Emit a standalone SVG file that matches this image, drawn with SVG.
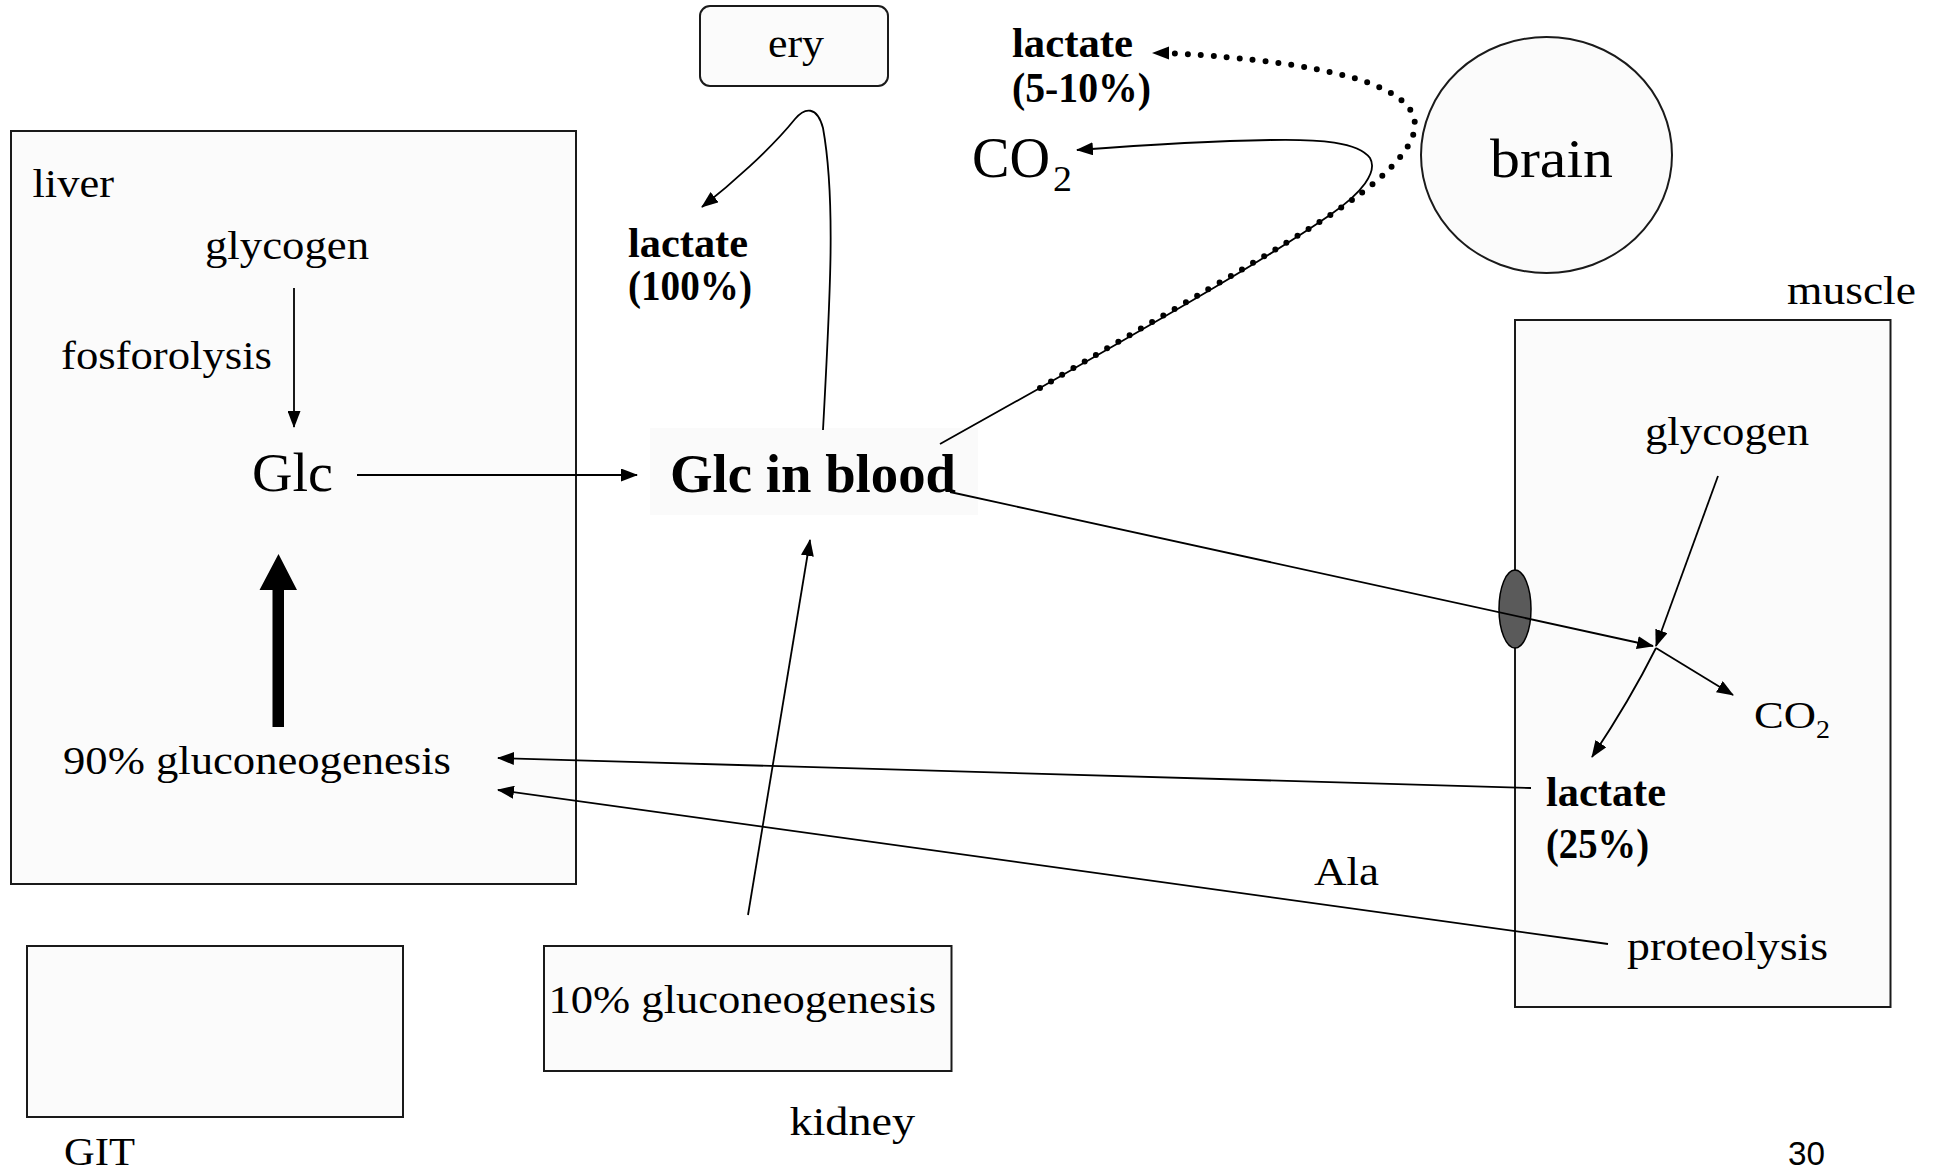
<svg xmlns="http://www.w3.org/2000/svg" width="1939" height="1172" viewBox="0 0 1939 1172">
<style>
  .t { font-family: "Liberation Serif", "Times New Roman", serif; font-size: 40px; fill: #000; }
  .b { font-family: "Liberation Serif", "Times New Roman", serif; font-size: 42px; font-weight: bold; fill: #000; }
  .box { fill: #fbfbfb; stroke: #1a1a1a; stroke-width: 2; }
  .arr { fill: none; stroke: #000; stroke-width: 1.8; marker-end: url(#ah); }
  .dot { fill: none; stroke: #000; stroke-width: 6; stroke-linecap: round; stroke-dasharray: 0 13; }
</style>
<defs>
  <marker id="ah" markerUnits="userSpaceOnUse" markerWidth="17" markerHeight="13" refX="16" refY="6.5" orient="auto">
    <path d="M0,0 L17,6.5 L0,13 z" fill="#000"/>
  </marker>
</defs>
<rect width="1939" height="1172" fill="#fff"/>

<g id="liver">
  <rect class="box" x="11" y="131" width="565" height="753"/>
  <text class="t" x="32.5" y="197" textLength="81.5" lengthAdjust="spacingAndGlyphs">liver</text>
  <text class="t" x="205" y="259" textLength="164" lengthAdjust="spacingAndGlyphs">glycogen</text>
  <text class="t" x="61" y="369" textLength="211" lengthAdjust="spacingAndGlyphs">fosforolysis</text>
  <text class="t" x="252" y="491" style="font-size:54px" textLength="81" lengthAdjust="spacingAndGlyphs">Glc</text>
  <text class="t" x="63" y="774" textLength="388" lengthAdjust="spacingAndGlyphs">90% gluconeogenesis</text>
  <polygon points="272.5,727 284,727 284,590 297,590 278.5,554 259.5,590 272.5,590" fill="#000"/>
</g>

<g id="git">
  <rect class="box" x="27" y="946" width="376" height="171"/>
  <text class="t" x="64" y="1165" textLength="71" lengthAdjust="spacingAndGlyphs">GIT</text>
</g>

<g id="kidney">
  <rect class="box" x="544" y="946" width="407.5" height="125"/>
  <text class="t" x="548.5" y="1013" textLength="387.5" lengthAdjust="spacingAndGlyphs">10% gluconeogenesis</text>
  <text class="t" x="789.5" y="1135" textLength="125.5" lengthAdjust="spacingAndGlyphs">kidney</text>
</g>

<g id="ery">
  <rect class="box" x="700" y="6" width="188" height="80" rx="10" ry="10"/>
  <text class="t" x="768" y="57" textLength="56" lengthAdjust="spacingAndGlyphs">ery</text>
</g>

<g id="lactate-ery">
  <text class="b" x="628" y="257" textLength="120" lengthAdjust="spacingAndGlyphs">lactate</text>
  <text class="b" x="628" y="300" textLength="124" lengthAdjust="spacingAndGlyphs">(100%)</text>
</g>

<g id="glc-blood">
  <rect x="650" y="428" width="328" height="87" fill="#fafafa"/>
  <text x="670" y="492" style="font-family:'Liberation Serif','Times New Roman',serif;font-size:55px;font-weight:bold" textLength="286" lengthAdjust="spacingAndGlyphs">Glc in blood</text>
</g>

<g id="lactate-brain">
  <text class="b" x="1012" y="57" textLength="121" lengthAdjust="spacingAndGlyphs">lactate</text>
  <text class="b" x="1012" y="102" textLength="139" lengthAdjust="spacingAndGlyphs">(5-10%)</text>
</g>

<g id="co2-brain">
  <text class="t" x="972" y="177" style="font-size:56px" textLength="78" lengthAdjust="spacingAndGlyphs">CO</text>
  <text class="t" x="1053" y="191" style="font-size:35px" textLength="19" lengthAdjust="spacingAndGlyphs">2</text>
</g>

<g id="brain">
  <ellipse class="box" cx="1546.5" cy="155" rx="125.5" ry="118"/>
  <text class="t" x="1490" y="177" style="font-size:54px" textLength="123" lengthAdjust="spacingAndGlyphs">brain</text>
</g>

<g id="muscle">
  <text class="t" x="1787" y="304" textLength="129" lengthAdjust="spacingAndGlyphs">muscle</text>
  <rect class="box" x="1515" y="320" width="375.5" height="687"/>
  <ellipse cx="1515" cy="609" rx="16" ry="39" fill="#5a5a5a" stroke="#000" stroke-width="1.5"/>
  <text class="t" x="1645" y="445" textLength="164" lengthAdjust="spacingAndGlyphs">glycogen</text>
  <text class="t" x="1754" y="728" style="font-size:38px" textLength="62" lengthAdjust="spacingAndGlyphs">CO</text>
  <text class="t" x="1816" y="738" style="font-size:26px" textLength="14" lengthAdjust="spacingAndGlyphs">2</text>
  <text class="b" x="1546" y="806" textLength="120" lengthAdjust="spacingAndGlyphs">lactate</text>
  <text class="b" x="1546" y="858" textLength="103" lengthAdjust="spacingAndGlyphs">(25%)</text>
  <text class="t" x="1627" y="960" textLength="201" lengthAdjust="spacingAndGlyphs">proteolysis</text>
</g>

<g id="ala">
  <text class="t" x="1314" y="885" textLength="65" lengthAdjust="spacingAndGlyphs">Ala</text>
</g>

<g id="page-number">
  <text x="1788" y="1165" style="font-family:'Liberation Sans',Arial,sans-serif;font-size:33px" textLength="37" lengthAdjust="spacingAndGlyphs">30</text>
</g>

<g id="connectors">
  <path class="arr" d="M294,288 L294,427"/>
  <path class="arr" d="M357,475 L637,475"/>
  <path class="arr" d="M823,430 C830,300 836,200 823,128 C817,106 805,107 795,119 C770,150 730,185 702,207"/>
  <path class="arr" d="M940,444 L1040,388 C1150,325 1262,262 1330,215 C1362,193 1378,172 1370,158 C1358,142 1320,139 1270,140 C1200,141 1130,146 1077,150"/>
  <path class="dot" d="M1040,388 C1150,322 1280,250 1345,205 C1395,170 1420,140 1414,118 C1405,85 1330,62 1168,53"/>
  <path d="M1152,53 L1169,46.5 L1169,59.5 z" fill="#000"/>
  <path class="arr" d="M748,915 L810,540"/>
  <path class="arr" d="M950,492 L1653,646"/>
  <path class="arr" d="M1718,476 L1656,646"/>
  <path class="arr" d="M1656,648 L1733,695"/>
  <path class="arr" d="M1656,648 Q1630,700 1592,757"/>
  <path class="arr" d="M1531,788 L498,758"/>
  <path class="arr" d="M1608,944 L498,790"/>
</g>
</svg>
